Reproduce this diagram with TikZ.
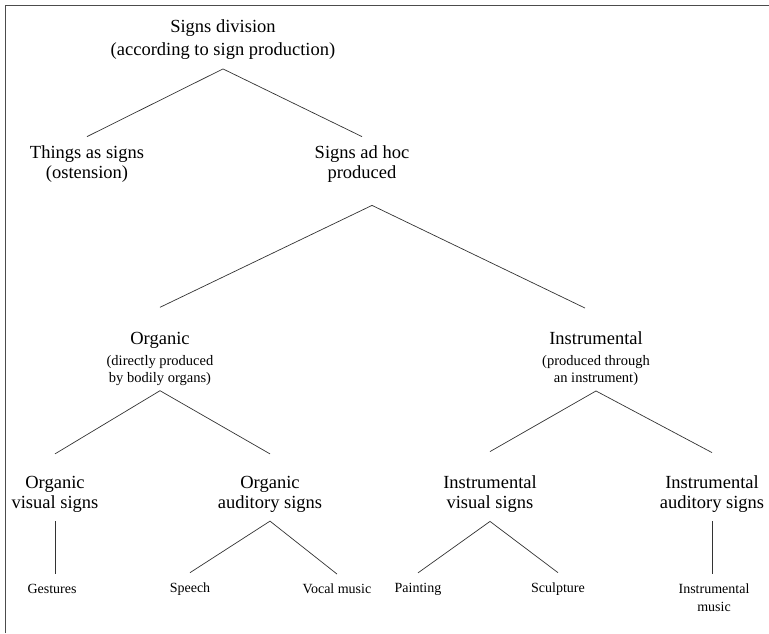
\documentclass[tikz,border=0pt]{standalone}
\usepackage{fontspec}
\setmainfont{Liberation Serif}
\newcommand{\bigline}[1]{{\fontsize{18.5}{20}\selectfont #1}}
\begin{document}
\begin{tikzpicture}[
    x=1pt, y=-1pt,
    lbl/.style={align=center, inner sep=0pt, outer ysep=9pt, font=\fontsize{18.5}{20}\selectfont},
    midlbl/.style={align=center, inner sep=0pt, outer ysep=5pt, font=\fontsize{14.5}{17}\selectfont},
    leaf/.style={align=center, inner sep=0pt, outer ysep=10pt, font=\fontsize{14}{18}\selectfont},
    branch/.style={draw=black!80, line width=0.7pt}
]
    \useasboundingbox (0,0) rectangle (769,633);
    % Frame
    \draw[black!70, line width=1pt] (5,633) -- (5,5) -- (769,5);

    % Root
    \node[lbl, font=\fontsize{18.5}{23}\selectfont] (root) at (223,40) {Signs division\\(according to sign production)};

    % First division
    \node[lbl] (things) at (87,164) {Things as signs\\(ostension)};
    \node[lbl] (adhoc) at (362,164) {Signs ad hoc\\produced};

    % Organic / Instrumental
    \node[midlbl] (organic) at (160,359) {\bigline{Organic}\\[4pt](directly produced\\by bodily organs)};
    \node[midlbl] (instr) at (596,359) {\bigline{Instrumental}\\[4pt](produced through\\an instrument)};

    % Sign kinds
    \node[lbl] (orgvis) at (55,494) {Organic\\visual signs};
    \node[lbl] (orgaud) at (270,494) {Organic\\auditory signs};
    \node[lbl] (insvis) at (490,494) {Instrumental\\visual signs};
    \node[lbl] (insaud) at (712,494) {Instrumental\\auditory signs};

    % Leaves
    \node[leaf] (gest) at (52,589) {Gestures};
    \node[leaf] (speech) at (190,589) {Speech};
    \node[leaf] (vocal) at (337,589) {Vocal music};
    \node[leaf] (paint) at (418,589) {Painting};
    \node[leaf] (sculpt) at (558,589) {Sculpture};
    \node[leaf] (insmus) at (714,598) {Instrumental\\music};

    % Branches
    \draw[branch] (things.north) -- (root.south) -- (adhoc.north);
    \draw[branch] ([yshift=20pt]organic.north) -- ([xshift=10pt,yshift=-14pt]adhoc.south) -- ([xshift=-11pt,yshift=19pt]instr.north);
    \draw[branch] ([yshift=13pt]orgvis.north) -- (organic.south) -- ([yshift=13pt]orgaud.north);
    \draw[branch] ([yshift=15pt]insvis.north) -- (instr.south) -- ([yshift=14pt]insaud.north);
    \draw[branch] (orgvis.south) -- (orgvis.south |- gest.north);
    \draw[branch] (speech.north) -- (orgaud.south) -- (vocal.north);
    \draw[branch] (paint.north) -- (insvis.south) -- (sculpt.north);
    \draw[branch] (insaud.south) -- (insaud.south |- insmus.north);
\end{tikzpicture}
\end{document}
